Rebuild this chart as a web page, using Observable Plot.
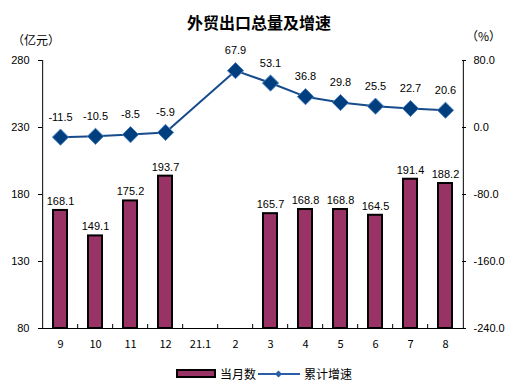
<!DOCTYPE html>
<html><head><meta charset="utf-8">
<script src="https://cdn.jsdelivr.net/npm/d3@7"></script>
<script src="https://cdn.jsdelivr.net/npm/@observablehq/plot@0.6"></script>
<style>
body{margin:0;background:#fff;}
#wrap{position:relative;width:518px;height:391px;font-family:"Noto Sans CJK SC","Liberation Sans",sans-serif;}
#wrap > svg{position:absolute;left:0;top:0;}
.t{position:absolute;color:#000;white-space:nowrap;}
</style></head>
<body>
<div id="wrap">
  <div class="t" id="title" style="left:0;width:518px;text-align:center;top:10px;font-size:16px;font-weight:bold;">外贸出口总量及增速</div>
  <div class="t" style="left:12px;top:31px;font-size:12px;">（亿元）</div>
  <div class="t" style="left:466px;top:27px;font-size:12px;">（%）</div>
  <div class="t" style="left:176px;top:365px;font-size:12px;display:flex;align-items:center;">
    <span style="display:inline-block;width:36px;height:5px;background:#993366;border:2px solid #000;"></span>
    <span style="margin-left:4px;">当月数</span>
    <svg width="42" height="12" style="margin-left:2px;"><line x1="0" y1="6" x2="42" y2="6" stroke="#2a5ea8" stroke-width="2"/><rect x="18" y="3.5" width="5" height="5" fill="#2a5ea8" transform="rotate(45 20.5 6)"/></svg>
    <span style="margin-left:4px;">累计增速</span>
  </div>
</div>
<script>
const months = ["9","10","11","12","21.1","2","3","4","5","6","7","8"];
const monthlyExports = [168.1,149.1,175.2,193.7,null,null,165.7,168.8,168.8,164.5,191.4,188.2];
const cumulativeGrowth = [-11.5,-10.5,-8.5,-5.9,null,67.9,53.1,36.8,29.8,25.5,22.7,20.6];
const leftTicks = [80,130,180,230,280];
const rightTicks = [-240,-160,-80,0,80];

const L0 = 80, L1 = 280, R0 = -240, R1 = 80;
const toLeft = v => L0 + (v - R0) * (L1 - L0) / (R1 - R0);

const bars = months.map((m,i)=>({m, v: monthlyExports[i]})).filter(d=>d.v!=null);
const line = months.map((m,i)=>({m, v: cumulativeGrowth[i]})).filter(d=>d.v!=null);

const W = 518, H = 391, mL = 38, mR = 52, mT = 60, mB = 63;
const fw = W - mL - mR;
const step = fw / months.length;

const chart = Plot.plot({
  width: W, height: H,
  marginLeft: mL, marginRight: mR, marginTop: mT, marginBottom: mB,
  style: {fontFamily: '"Liberation Sans", Arial, sans-serif', fontSize: "11px", background: "transparent", color: "#000"},
  x: {type: "band", domain: months, paddingInner: 0.6, paddingOuter: 0.3, label: null},
  y: {domain: [L0, L1], label: null},
  marks: [
    Plot.barY(bars, {x: "m", y1: L0, y2: "v", fill: "#993366", stroke: "#000", strokeWidth: 2}),
    Plot.ruleY([L0], {stroke: "#000", strokeWidth: 1}),
    Plot.ruleX([months[0]], {x: d=>d, y1: L0, y2: L1, dx: -step/2, stroke: "#000"}),
    Plot.ruleX([months[months.length-1]], {x: d=>d, y1: L0, y2: L1, dx: step/2, stroke: "#000"}),
    Plot.ruleX(months.slice(1), {x: d=>d, y1: L0, y2: L0 + 4*(L1-L0)/(H-mT-mB), dx: -step/2, stroke: "#000"}),
    Plot.ruleY(leftTicks, {insetRight: fw - 4, stroke: "#000"}),
    Plot.ruleY(leftTicks, {insetLeft: fw - 4, stroke: "#000"}),
    Plot.axisX({tickSize: 0, tickPadding: 12, label: null, fontFamily: '"Noto Sans CJK SC", sans-serif', fontSize: 11}),
    Plot.axisY(leftTicks, {anchor: "left", tickSize: 0, tickPadding: 9, label: null, fontSize: 11}),
    Plot.axisY(rightTicks.map(toLeft), {anchor: "right", tickSize: 0, tickPadding: 7, label: null, fontSize: 11, tickFormat: (d,i) => rightTicks[i].toFixed(1)}),
    Plot.line(line, {x: "m", y: d => toLeft(d.v), stroke: "#164b8c", strokeWidth: 2}),
    Plot.dot(line, {x: "m", y: d => toLeft(d.v), symbol: "diamond2", r: 7.3, fill: "#003e7e", stroke: "#4f82c4", strokeWidth: 1}),
    Plot.text(bars, {x: "m", y: "v", text: d => d.v.toFixed(1), dy: -9, fontSize: 11}),
    Plot.text(line, {x: "m", y: d => toLeft(d.v), text: d => d.v.toFixed(1), dy: -20, fontSize: 11})
  ]
});
document.getElementById("wrap").prepend(chart);
</script>
</body></html>
